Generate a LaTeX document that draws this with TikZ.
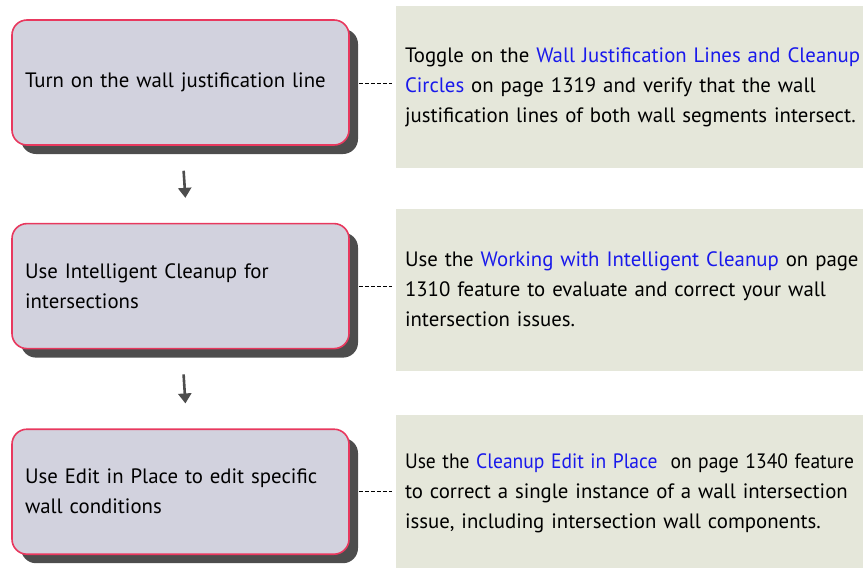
\documentclass[tikz,border=0pt]{standalone}
\usepackage{fontspec}
\setmainfont{PT Sans}
\usepackage{xcolor}
\usepackage{graphicx}
\usetikzlibrary{positioning,arrows.meta,shadows}

\definecolor{cajafondo}{HTML}{D2D2DE}
\definecolor{cajaborde}{HTML}{E8385E}
\definecolor{sombra}{HTML}{4D4D4D}
\definecolor{panelfondo}{HTML}{E5E7DA}
\definecolor{enlace}{RGB}{25,25,235}
\newcommand{\enlace}[1]{\textcolor{enlace}{#1}}
\newcommand{\renglon}[1]{\mbox{#1}}

\begin{document}
\begin{tikzpicture}[
      font=\fontsize{20.8}{30}\selectfont,
      paso/.style={draw=cajaborde, line width=1.6pt, rounded corners=15pt, fill=cajafondo,
                   minimum width=337pt, minimum height=125pt, text width=311pt,
                   inner xsep=13pt, align=left,
                   drop shadow={shadow xshift=9pt, shadow yshift=-9pt, fill=sombra, opacity=1}},
      nota/.style={fill=panelfondo, minimum width=468pt, minimum height=162pt,
                   text width=450pt, inner xsep=9pt, align=left},
      flecha/.style={-{Triangle[length=10pt,width=13pt]}, line width=2.6pt, sombra},
      enlaza/.style={dash pattern=on 4pt off 2pt, line width=1pt, black}]
    \useasboundingbox (0,0) rectangle (863pt,-568pt);
    \node[paso] (b1) at (180.5pt,-82.5pt) {Turn on the wall justification line};
    \node[paso, below=77pt of b1] (b2) {Use Intelligent Cleanup for\\intersections};
    \node[paso, below=79pt of b2] (b3) {Use Edit in Place to edit specific\\wall conditions};
    \node[nota, right=46pt of b1, yshift=-4.5pt] (p1)
      {\renglon{Toggle on the \enlace{Wall Justification Lines and Cleanup}}\\
       \renglon{\enlace{Circles} on page 1319 and verify that the wall}\\
       \renglon{justification lines of both wall segments intersect.}};
    \node[nota, right=46pt of b2, yshift=-3.5pt] (p2)
      {\renglon{Use the \enlace{Working with Intelligent Cleanup} on page}\\
       \renglon{1310 feature to evaluate and correct your wall}\\
       \renglon{intersection issues.}};
    \node[nota, right=46pt of b3, yshift=-2pt, minimum height=157pt] (p3)
      {\renglon{\scalebox{0.94}[1]{Use the \enlace{Cleanup Edit in Place}\ \ on page 1340 feature}}\\
       \renglon{to correct a single instance of a wall intersection}\\
       \renglon{issue, including intersection wall components.}};
    \draw[flecha, shorten <=25pt, shorten >=25pt] ([xshift=1.5pt]b1.south) -- ([xshift=6.5pt]b2.north);
    \draw[flecha, shorten <=25pt, shorten >=25pt] ([xshift=1.5pt]b2.south) -- ([xshift=6.5pt]b3.north);
    \draw[enlaza, shorten <=9pt, shorten >=4pt] ([yshift=-1pt]b1.east) -- ([yshift=-1pt]b1.east -| p1.west);
    \draw[enlaza, shorten <=9pt, shorten >=4pt] (b2.east) -- (b2.east -| p2.west);
    \draw[enlaza, shorten <=9pt, shorten >=4pt] (b3.east) -- (b3.east -| p3.west);
  \end{tikzpicture}
\end{document}
